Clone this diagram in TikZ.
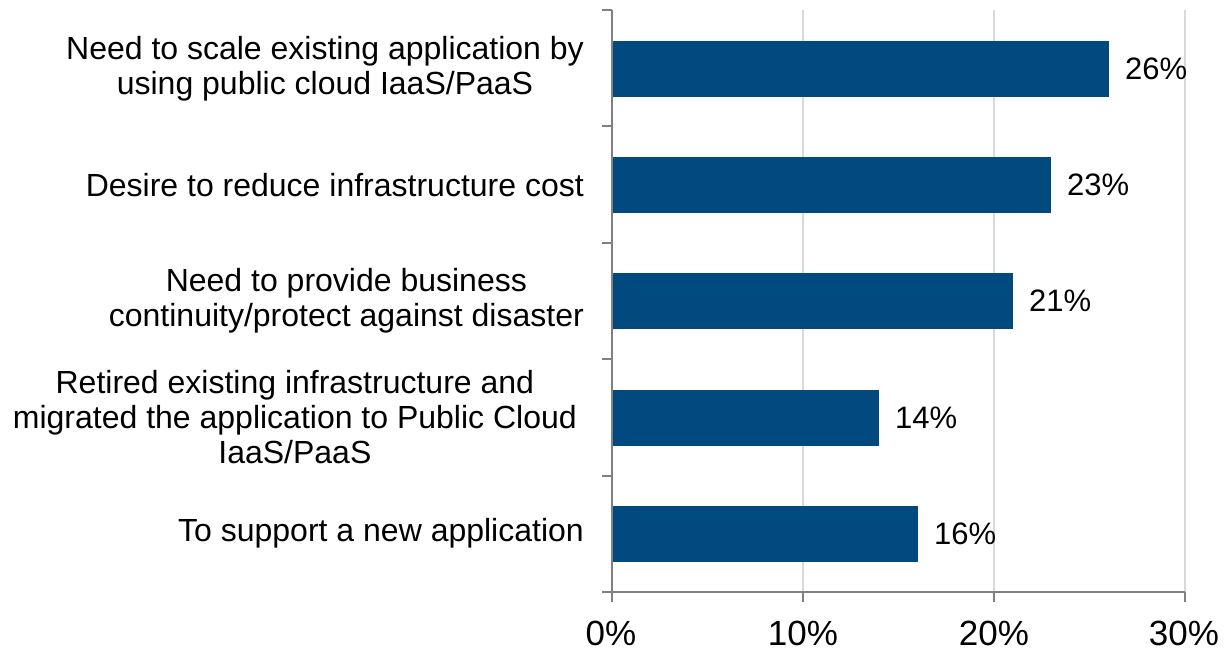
\documentclass[tikz,border=0pt]{standalone}
\usepackage{fontspec}
\setmainfont{Liberation Sans}
\usepackage{tikz}

\definecolor{barblue}{RGB}{0,74,128}
\definecolor{axisgray}{RGB}{128,128,128}
\definecolor{gridgray}{RGB}{217,217,217}

\begin{document}
\begin{tikzpicture}[x=1pt, y=-1pt,
		catlabel/.style={anchor=east, align=center, font=\fontsize{32}{35}\selectfont, inner sep=0pt},
		vallabel/.style={anchor=west, font=\fontsize{31}{35}\selectfont, inner sep=0pt},
		ticklabel/.style={anchor=base, font=\fontsize{35}{40}\selectfont, inner sep=0pt}
	]
	\useasboundingbox (0,0) rectangle (1226,650);

	% gridlines
	\draw[gridgray, line width=1.5pt] (803,10) -- (803,592);
	\draw[gridgray, line width=1.5pt] (994,10) -- (994,592);
	\draw[gridgray, line width=1.5pt] (1185,10) -- (1185,592);

	% bars
	\fill[barblue] (612,41) rectangle (1108.6,97);
	\fill[barblue] (612,157) rectangle (1051.3,213);
	\fill[barblue] (612,273) rectangle (1013.1,329);
	\fill[barblue] (612,390) rectangle (879.4,446);
	\fill[barblue] (612,506) rectangle (917.6,562);

	% axes
	\draw[axisgray, line width=2pt] (612,10) -- (612,592) -- (1185,592);
	\foreach \y in {10,126.4,242.8,359.2,475.6,592}
		\draw[axisgray, line width=2pt] (602,\y) -- (612,\y);
	\foreach \x in {612,803,994,1185}
		\draw[axisgray, line width=2pt] (\x,592) -- (\x,602);

	% category labels
	\node[catlabel] (c1) at (584,69) {Need to scale existing application by\\using public cloud IaaS/PaaS};
	\node[catlabel] (c2) at (584,185) {Desire to reduce infrastructure cost};
	\node[catlabel] (c3) at (584,301) {Need to provide business\\continuity/protect against disaster};
	\node[catlabel] (c4) at (577,417) {Retired existing infrastructure and\\migrated the application to Public Cloud\\IaaS/PaaS};
	\node[catlabel] (c5) at (584,533) {To support a new application};

	% value labels
	\node[vallabel] (v1) at (1125,69) {26\%};
	\node[vallabel] (v2) at (1067,185) {23\%};
	\node[vallabel] (v3) at (1029,301) {21\%};
	\node[vallabel] (v4) at (895,418) {14\%};
	\node[vallabel] (v5) at (934,534) {16\%};

	% axis labels
	\node[ticklabel] (t0) at (611,645) {0\%};
	\node[ticklabel] (t1) at (803,645) {10\%};
	\node[ticklabel] (t2) at (994,645) {20\%};
	\node[ticklabel] (t3) at (1184,645) {30\%};
\end{tikzpicture}
\end{document}
